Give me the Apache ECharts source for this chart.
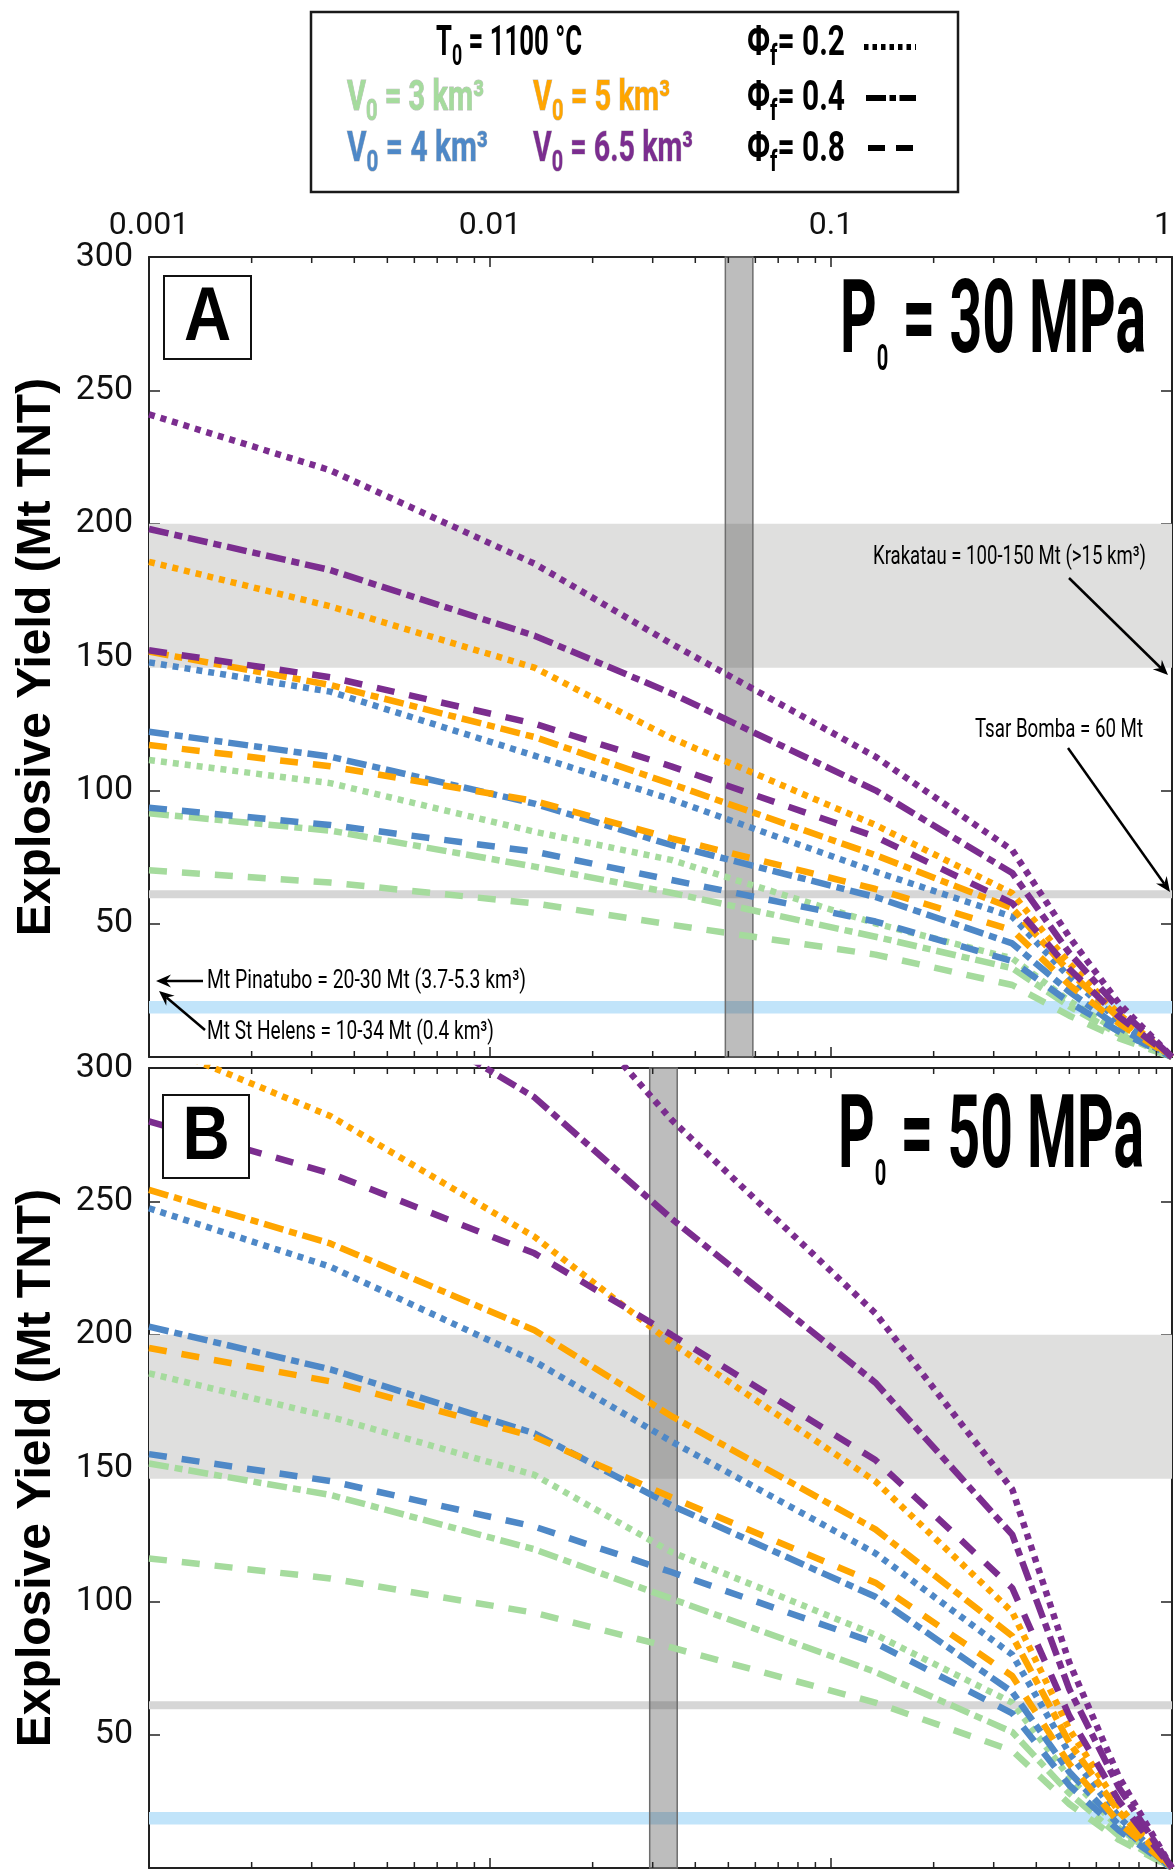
<!DOCTYPE html>
<html>
<head>
<meta charset="utf-8">
<script src="https://cdn.jsdelivr.net/npm/echarts@6/dist/echarts.min.js"></script>
<style>
html, body { margin: 0; padding: 0; background: #fff; }
#main { width: 1175px; height: 1870px; }
</style>
</head>
<body>
<div id="main"></div>
<script>
// model points along the x axis
const xVals = [0.001, 0.0034, 0.0135, 0.034, 0.135, 0.34, 0.5, 0.7, 1];
const xTickLabels = ['0.001', '0.01', '0.1', '1'];
const yTickLabels = ['', '50', '100', '150', '200', '250', '300'];
const minorTicks = [0.002, 0.003, 0.004, 0.005, 0.006, 0.007, 0.008, 0.009,
  0.02, 0.03, 0.04, 0.05, 0.06, 0.07, 0.08, 0.09,
  0.2, 0.3, 0.4, 0.5, 0.6, 0.7, 0.8, 0.9];

// panel A : P0 = 30 MPa
const aGreenDot      = [111.4, 102.7, 84.5, 73.9, 50.1, 37, 21, 9.5, 0];
const aGreenDashDot  = [91.4, 84.9, 71.4, 61.6, 45.1, 33.3, 19, 8.5, 0];
const aGreenDash     = [70, 65.4, 57.6, 49.6, 38.4, 27, 15.5, 7, 0];
const aBlueDot       = [148, 137, 113, 96.6, 69.5, 52.6, 30, 13.5, 0];
const aBlueDashDot   = [122, 112.6, 95, 79.5, 60, 42.6, 24.5, 11, 0];
const aBlueDash      = [93.5, 87, 77, 66.4, 50.8, 36, 20.5, 9.5, 0];
const aOrangeDot     = [185.7, 169, 146, 119.6, 87, 61.4, 35, 16, 0];
const aOrangeDashDot = [152, 139.5, 120, 102.4, 75.7, 55.8, 32, 14.5, 0];
const aOrangeDash    = [117, 109, 96, 82, 63, 47.6, 27, 12.5, 0];
const aPurpleDot     = [241, 220, 185, 155, 112.6, 77.6, 45, 20, 0];
const aPurpleDashDot = [198, 182.6, 158, 136.4, 100, 69, 39, 18, 0];
const aPurpleDash    = [152.5, 142.4, 125, 109, 82.6, 57.7, 33, 15, 0];

// panel B : P0 = 50 MPa
const bGreenDot      = [185.5, 169.2, 147.4, 118.5, 87.5, 62, 34, 15, 0];
const bGreenDashDot  = [151.7, 139.9, 119.5, 101, 73.5, 51, 28, 12, 0];
const bGreenDash     = [116.1, 108.6, 95.7, 82.7, 62, 44, 24, 10.5, 0];
const bBlueDot       = [247.4, 225.5, 190, 160, 118, 80, 43, 19, 0];
const bBlueDashDot   = [203, 187, 163, 136, 101.7, 66, 36, 16, 0];
const bBlueDash      = [155.2, 145.1, 128, 111, 84.4, 58, 31, 14, 0];
const bOrangeDot     = [310, 282, 236.7, 197, 145, 96, 52, 23, 0];
const bOrangeDashDot = [254.3, 234.2, 201.7, 169.5, 127, 87, 47, 21, 0];
const bOrangeDash    = [195, 182.5, 161.7, 139, 107, 72, 39, 17, 0];
const bPurpleDot     = [410, 380, 339, 280.7, 208, 142, 77, 34, 0];
const bPurpleDashDot = [370, 335, 289, 243.6, 182, 125, 67, 30, 0];
const bPurpleDash    = [280, 260.5, 230.5, 200, 153, 105, 57, 25, 0];

// reference bands (Mt) and the vertical bands (x)
const krakatauBand = [146, 200];
const tsarBand = [59.5, 62.5];
const helensBand = [16.3, 21];
const aVertBand = [0.049, 0.059];
const bVertBand = [0.0294, 0.0354];

const colors = { green: '#a5db9d', blue: '#4e88c7', orange: '#ffa500', purple: '#7b2d8f' };
const dashes = { dot: [6, 6], dashdot: [20, 6, 8, 6], dash: [18, 15] };
const AX = '#222';

const chart = echarts.init(document.getElementById('main'));

function xAxisDef(grid, pos, showLabel) {
  return {
    gridIndex: grid, type: 'log', logBase: 10, min: 0.001, max: 1, position: pos,
    axisLine: { show: true, onZero: false, lineStyle: { color: AX, width: 2 } },
    axisTick: { show: true, inside: true, length: 10, lineStyle: { color: AX, width: 1.5 } },
    minorTick: { show: false },
    splitLine: { show: false },
    axisLabel: {
      show: showLabel, margin: 15, color: '#111', fontSize: 32, fontFamily: 'Roboto',
      alignMaxLabel: 'right',
      formatter: v => xTickLabels[Math.round(Math.log10(v)) + 3]
    }
  };
}
function yAxisDef(grid, pos, showLabel) {
  const ax = {
    gridIndex: grid, type: 'value', min: 0, max: 300, interval: 50, position: pos,
    axisLine: { show: true, onZero: false, lineStyle: { color: AX, width: 2 } },
    axisTick: { show: true, inside: true, length: 11, lineStyle: { color: AX, width: 1.5 } },
    splitLine: { show: false },
    axisLabel: {
      show: showLabel, margin: 16, color: '#111', fontSize: 34, fontFamily: 'Roboto',
      formatter: v => yTickLabels[Math.round(v / 50)]
    }
  };
  if (showLabel) {
    ax.name = 'Explosive Yield (Mt TNT)';
    ax.nameLocation = 'middle';
    ax.nameRotate = 90;
    ax.nameGap = 88;
    ax.nameTextStyle = { fontSize: 48, fontWeight: 'bold', fontFamily: "'Liberation Sans', Arial, sans-serif", color: '#000' };
  }
  return ax;
}

function lineSeries(arr, color, style, xi, yi) {
  return {
    type: 'line', xAxisIndex: xi, yAxisIndex: yi,
    data: xVals.map((x, i) => [x, arr[i]]),
    symbol: 'none', silent: true, z: 3, clip: true,
    lineStyle: { color: colors[color], width: 6.5, type: dashes[style], cap: 'butt' }
  };
}

function bandSeries(xi, yi, vBand) {
  return [{
    type: 'line', xAxisIndex: xi, yAxisIndex: yi, data: [], silent: true, z: 1,
    markArea: {
      silent: true,
      data: [
        [{ yAxis: krakatauBand[0], itemStyle: { color: '#dfdfde' } }, { yAxis: krakatauBand[1] }],
        [{ yAxis: tsarBand[0], itemStyle: { color: '#d6d6d6' } }, { yAxis: tsarBand[1] }],
        [{ yAxis: helensBand[0], itemStyle: { color: '#c1e4fa' } }, { yAxis: helensBand[1] }]
      ]
    }
  }, {
    type: 'line', xAxisIndex: xi, yAxisIndex: yi, data: [], silent: true, z: 2,
    markArea: {
      silent: true,
      data: [[{ xAxis: vBand[0], itemStyle: { color: 'rgba(82,82,82,0.38)', borderColor: '#6e6e6e', borderWidth: 1.5 } }, { xAxis: vBand[1] }]]
    }
  }];
}

function minorTickSeries(xi, yi) {
  return {
    type: 'custom', xAxisIndex: xi, yAxisIndex: yi, silent: true, z: 20, clip: false,
    data: minorTicks.map(v => [v, 0]),
    renderItem: (params, api) => {
      const top = api.coord([api.value(0), 300]);
      const bot = api.coord([api.value(0), 0]);
      const st = { stroke: AX, lineWidth: 1.5 };
      return {
        type: 'group', children: [
          { type: 'line', shape: { x1: top[0], y1: top[1], x2: top[0], y2: top[1] + 6 }, style: st },
          { type: 'line', shape: { x1: bot[0], y1: bot[1], x2: bot[0], y2: bot[1] - 6 }, style: st }
        ]
      };
    }
  };
}

const panelA = [
  [aGreenDot, 'green', 'dot'], [aGreenDashDot, 'green', 'dashdot'], [aGreenDash, 'green', 'dash'],
  [aBlueDot, 'blue', 'dot'], [aBlueDashDot, 'blue', 'dashdot'], [aBlueDash, 'blue', 'dash'],
  [aOrangeDot, 'orange', 'dot'], [aOrangeDashDot, 'orange', 'dashdot'], [aOrangeDash, 'orange', 'dash'],
  [aPurpleDot, 'purple', 'dot'], [aPurpleDashDot, 'purple', 'dashdot'], [aPurpleDash, 'purple', 'dash']
];
const panelB = [
  [bGreenDot, 'green', 'dot'], [bGreenDashDot, 'green', 'dashdot'], [bGreenDash, 'green', 'dash'],
  [bBlueDot, 'blue', 'dot'], [bBlueDashDot, 'blue', 'dashdot'], [bBlueDash, 'blue', 'dash'],
  [bOrangeDot, 'orange', 'dot'], [bOrangeDashDot, 'orange', 'dashdot'], [bOrangeDash, 'orange', 'dash'],
  [bPurpleDot, 'purple', 'dot'], [bPurpleDashDot, 'purple', 'dashdot'], [bPurpleDash, 'purple', 'dash']
];

const series = [].concat(
  bandSeries(1, 0, aVertBand),
  bandSeries(3, 2, bVertBand),
  panelA.map(s => lineSeries(s[0], s[1], s[2], 1, 0)),
  panelB.map(s => lineSeries(s[0], s[1], s[2], 3, 2)),
  [minorTickSeries(1, 0), minorTickSeries(3, 2)]
);

// ---- text helpers (condensed look via scaleX) ----
const mctx = document.createElement('canvas').getContext('2d');
function textW(t, font) { mctx.font = font; return mctx.measureText(t).width; }

function fitText(parts, x, yMid, targetW, fill, opt) {
  opt = opt || {};
  const fonts = parts.map(p => (p.weight || 'bold') + ' ' + p.size + 'px ' + (p.family || 'Roboto'));
  const ws = parts.map((p, i) => textW(p.t, fonts[i]));
  const s = targetW / ws.reduce((a, b) => a + b, 0);
  let cx = x;
  return parts.map((p, i) => {
    const el = {
      type: 'text', x: cx, y: yMid + (p.dy || 0), scaleX: s, z: 50, silent: true,
      style: {
        text: p.t, font: fonts[i], fill: fill,
        textAlign: 'left', textVerticalAlign: 'middle', align: 'left', verticalAlign: 'middle',
        stroke: opt.stroke || null, lineWidth: opt.stroke ? 1 : 0
      }
    };
    cx += ws[i] * s;
    return el;
  });
}

function arrow(x1, y1, x2, y2) {
  const a = Math.atan2(y2 - y1, x2 - x1);
  const L = 15, W = 6.5, N = 10;
  const bx = x2 - L * Math.cos(a), by = y2 - L * Math.sin(a);
  const nx = x2 - N * Math.cos(a), ny = y2 - N * Math.sin(a);
  const px = -Math.sin(a), py = Math.cos(a);
  return [
    { type: 'line', z: 50, silent: true, shape: { x1: x1, y1: y1, x2: nx, y2: ny }, style: { stroke: '#000', lineWidth: 2.5 } },
    { type: 'polygon', z: 50, silent: true, shape: { points: [[x2, y2], [bx + px * W, by + py * W], [nx, ny], [bx - px * W, by - py * W]] }, style: { fill: '#000' } }
  ];
}

function sample(x1, x2, y, dash) {
  return { type: 'line', z: 50, silent: true, shape: { x1: x1, y1: y, x2: x2, y2: y }, style: { stroke: '#000', lineWidth: 6, lineDash: dash, lineCap: 'butt' } };
}

const S = 42, SS = 29, SUB = 14;
const graphics = [].concat(
  // legend box
  [{ type: 'rect', z: 40, silent: true, shape: { x: 311, y: 12, width: 647, height: 180 }, style: { fill: '#fff', stroke: '#1a1a1a', lineWidth: 2.5 } }],
  fitText([{ t: 'T', size: S }, { t: '0', size: SS, dy: SUB }, { t: ' = 1100 °C', size: S }], 436, 44, 146, '#000'),
  fitText([{ t: 'Φ', size: S }, { t: 'f', size: SS, dy: SUB }, { t: '= 0.2', size: S }], 747, 44, 98, '#000'),
  fitText([{ t: 'V', size: S }, { t: '0', size: SS, dy: SUB }, { t: ' = 3 km³', size: S }], 347, 99, 137, colors.green, { stroke: 'rgba(60,60,60,0.35)' }),
  fitText([{ t: 'V', size: S }, { t: '0', size: SS, dy: SUB }, { t: ' = 5 km³', size: S }], 533, 99, 137, colors.orange, { stroke: 'rgba(60,60,60,0.35)' }),
  fitText([{ t: 'Φ', size: S }, { t: 'f', size: SS, dy: SUB }, { t: '= 0.4', size: S }], 747, 99, 98, '#000'),
  fitText([{ t: 'V', size: S }, { t: '0', size: SS, dy: SUB }, { t: ' = 4 km³', size: S }], 347, 150, 141, colors.blue, { stroke: 'rgba(60,60,60,0.35)' }),
  fitText([{ t: 'V', size: S }, { t: '0', size: SS, dy: SUB }, { t: ' = 6.5 km³', size: S }], 533, 150, 160, colors.purple, { stroke: 'rgba(60,60,60,0.35)' }),
  fitText([{ t: 'Φ', size: S }, { t: 'f', size: SS, dy: SUB }, { t: '= 0.8', size: S }], 747, 150, 98, '#000'),
  [sample(864, 916, 47, [4.5, 4]), sample(866, 916, 98, [20, 3.5, 6.5, 3.5]), sample(868, 916, 148, [17, 11])],
  // panel titles
  fitText([{ t: 'P', size: 102 }, { t: '0', size: 36, dy: 35 }, { t: ' = 30 MPa', size: 102 }], 840, 326, 306, '#000'),
  fitText([{ t: 'P', size: 102 }, { t: '0', size: 36, dy: 35 }, { t: ' = 50 MPa', size: 102 }], 838, 1141, 306, '#000'),
  // panel letters
  [
    { type: 'rect', z: 40, silent: true, shape: { x: 164, y: 276, width: 87, height: 83 }, style: { fill: '#fff', stroke: '#111', lineWidth: 2 } },
    { type: 'text', z: 50, silent: true, x: 207.5, y: 319, scaleX: 0.86, style: { text: 'A', font: "bold 76px 'Liberation Sans', Arial", fill: '#000', textAlign: 'center', textVerticalAlign: 'middle', align: 'center', verticalAlign: 'middle' } },
    { type: 'rect', z: 40, silent: true, shape: { x: 163, y: 1095, width: 86, height: 83 }, style: { fill: '#fff', stroke: '#111', lineWidth: 2 } },
    { type: 'text', z: 50, silent: true, x: 206, y: 1138, scaleX: 0.86, style: { text: 'B', font: "bold 76px 'Liberation Sans', Arial", fill: '#000', textAlign: 'center', textVerticalAlign: 'middle', align: 'center', verticalAlign: 'middle' } }
  ],
  // annotations
  fitText([{ t: 'Krakatau = 100-150 Mt (>15 km³)', size: 26, weight: 'normal' }], 873, 557, 273, '#000'),
  fitText([{ t: 'Tsar Bomba = 60 Mt', size: 26, weight: 'normal' }], 975, 730, 168, '#000'),
  fitText([{ t: 'Mt Pinatubo = 20-30 Mt (3.7-5.3 km³)', size: 26, weight: 'normal' }], 207, 981, 319, '#000'),
  fitText([{ t: 'Mt St Helens = 10-34 Mt (0.4 km³)', size: 26, weight: 'normal' }], 207, 1032, 287, '#000'),
  arrow(1069, 578, 1168, 675),
  arrow(1068, 748, 1170, 892),
  arrow(203, 981, 156, 981),
  arrow(205, 1030, 159, 991)
);

chart.setOption({
  backgroundColor: '#fff',
  animation: false,
  textStyle: { fontFamily: 'Roboto' },
  grid: [
    { left: 149, top: 257, width: 1023, height: 800, outerBoundsMode: 'none' },
    { left: 149, top: 1068, width: 1023, height: 800, outerBoundsMode: 'none' }
  ],
  xAxis: [
    xAxisDef(0, 'top', true), xAxisDef(0, 'bottom', false),
    xAxisDef(1, 'top', false), xAxisDef(1, 'bottom', false)
  ],
  yAxis: [
    yAxisDef(0, 'left', true), yAxisDef(0, 'right', false),
    yAxisDef(1, 'left', true), yAxisDef(1, 'right', false)
  ],
  series: series,
  graphic: { elements: graphics }
});
</script>
</body>
</html>
